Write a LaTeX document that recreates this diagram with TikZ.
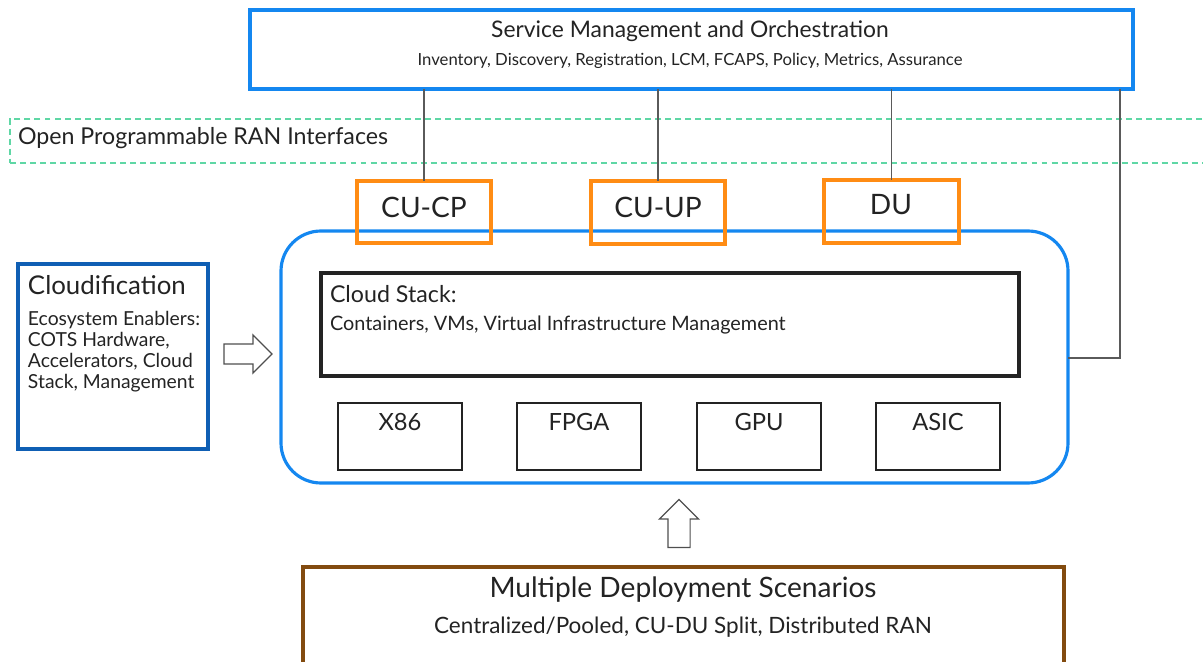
\documentclass[tikz,border=0pt]{standalone}
\usepackage{fontspec}
\setmainfont{Lato}
\usetikzlibrary{fit,shapes.arrows}
\definecolor{smoblue}{RGB}{20,135,240}
\definecolor{cloudblue}{RGB}{15,95,180}
\definecolor{ranorange}{RGB}{255,140,20}
\definecolor{rangreen}{RGB}{95,215,165}
\definecolor{deploybrown}{RGB}{130,75,15}
\definecolor{linegray}{RGB}{90,90,90}
\definecolor{textgray}{RGB}{35,35,35}

\tikzset{
    box/.style={draw, inner sep=0pt, outer sep=0pt},
    label/.style={text=textgray, inner sep=0pt, outer sep=0pt},
    link/.style={draw=linegray, line width=0.7pt},
    blockarrow/.style={single arrow, draw=textgray!80, line width=0.7pt, inner sep=0.19cm,
        minimum height=0.96cm, single arrow head extend=0.18cm, single arrow tip angle=90}
}

% hardware unit inside the platform: name, left x, label
\newcommand{\hwunit}[3]{
    \node[box, draw=textgray, line width=0.8pt, fit={(#2,403) (#2+124,470)}] (#1) {};
    \node[label, font=\fontsize{13.5}{16}\selectfont] (#1-text) at (#2+62,422) {#3};
}

\begin{document}
\begin{tikzpicture}
    \begin{scope}[x=0.02cm, y=-0.02cm]
        \useasboundingbox (0,0) rectangle (1203,662);

        % Service management box on top
        \node[box, draw=smoblue, line width=1.8pt, fit={(250,10) (1133,89)}] (smo) {};
        \node[label, font=\fontsize{13}{16}\selectfont] (smo-title) at (690,31) {Service Management and Orchestration};
        \node[label, font=\fontsize{9.5}{12}\selectfont] (smo-sub) at (690,61) {Inventory, Discovery, Registration, LCM, FCAPS, Policy, Metrics, Assurance};

        % open interfaces band (runs off the right edge)
        \node[box, draw=rangreen, line width=0.6pt, dash pattern=on 3.4pt off 2.3pt, fit={(10,119) (1215,163)}] (ranband) {};
        \node[label, anchor=west, font=\fontsize{13.2}{16}\selectfont] (ranband-text) at (18,138) {Open Programmable RAN Interfaces};

        % platform with rounded corners
        \node[box, draw=smoblue, line width=1.8pt, rounded corners=0.8cm, fit={(281,231) (1068,483)}] (platform) {};

        % RAN functions sitting on the platform
        \node[box, draw=ranorange, line width=1.8pt, fit={(357,181) (491,243)}] (cucp) {};
        \node[label, font=\fontsize{16}{19}\selectfont] (cucp-text) at (424,207) {CU-CP};
        \node[box, draw=ranorange, line width=1.8pt, fit={(591,181) (725,244)}] (cuup) {};
        \node[label, font=\fontsize{16}{19}\selectfont] (cuup-text) at (658,207) {CU-UP};
        \node[box, draw=ranorange, line width=1.8pt, fit={(824,180) (959,243)}] (du) {};
        \node[label, font=\fontsize{16}{19}\selectfont] (du-text) at (891,205) {DU};

        % cloud stack
        \node[box, draw=textgray, line width=1.8pt, fit={(321,273) (1019,376)}] (stack) {};
        \node[label, anchor=west, font=\fontsize{13.2}{16}\selectfont] (stack-title) at (330,294) {Cloud Stack:};
        \node[label, anchor=west, font=\fontsize{11.3}{14}\selectfont] (stack-sub) at (330,325) {Containers, VMs, Virtual Infrastructure Management};

        % hardware units
        \hwunit{xeightsix}{338}{X86}
        \hwunit{fpga}{517}{FPGA}
        \hwunit{gpu}{697}{GPU}
        \hwunit{asic}{876}{ASIC}

        % cloudification box on the left
        \node[box, draw=cloudblue, line width=1.8pt, fit={(18,264) (208,449)}] (cloudif) {};
        \node[label, anchor=west, font=\fontsize{14.7}{18}\selectfont] (cloudif-title) at (28,285) {Cloudification};
        \node[label, anchor=north west, align=left, font=\fontsize{11}{12}\selectfont] (cloudif-sub) at (28,311)
            {Ecosystem Enablers:\\COTS Hardware,\\Accelerators, Cloud\\Stack, Management};

        % deployment scenarios (runs off the bottom edge)
        \node[box, draw=deploybrown, line width=1.8pt, fit={(303,567) (1064,680)}] (deploy) {};
        \node[label, font=\fontsize{16}{19}\selectfont] (deploy-title) at (683,590) {Multiple Deployment Scenarios};
        \node[label, font=\fontsize{12.8}{16}\selectfont] (deploy-sub) at (683,627) {Centralized/Pooled, CU-DU Split, Distributed RAN};

        % management links
        \draw[link] (cucp.north |- smo.south) -- (cucp.north);
        \draw[link] (cuup.north |- smo.south) -- (cuup.north);
        \draw[link] (du.north |- smo.south) -- (du.north);
        \coordinate (bend) at (1120,358);
        \draw[link] (bend |- smo.south) -- (bend) -- (bend -| platform.east);

        % block arrows
        \node[blockarrow] (cloudarrow) at (243,354) {};
        \node[blockarrow, shape border rotate=90, inner sep=0.21cm, single arrow head extend=0.17cm] (deployarrow) at (679,529) {};
    \end{scope}
\end{tikzpicture}
\end{document}
